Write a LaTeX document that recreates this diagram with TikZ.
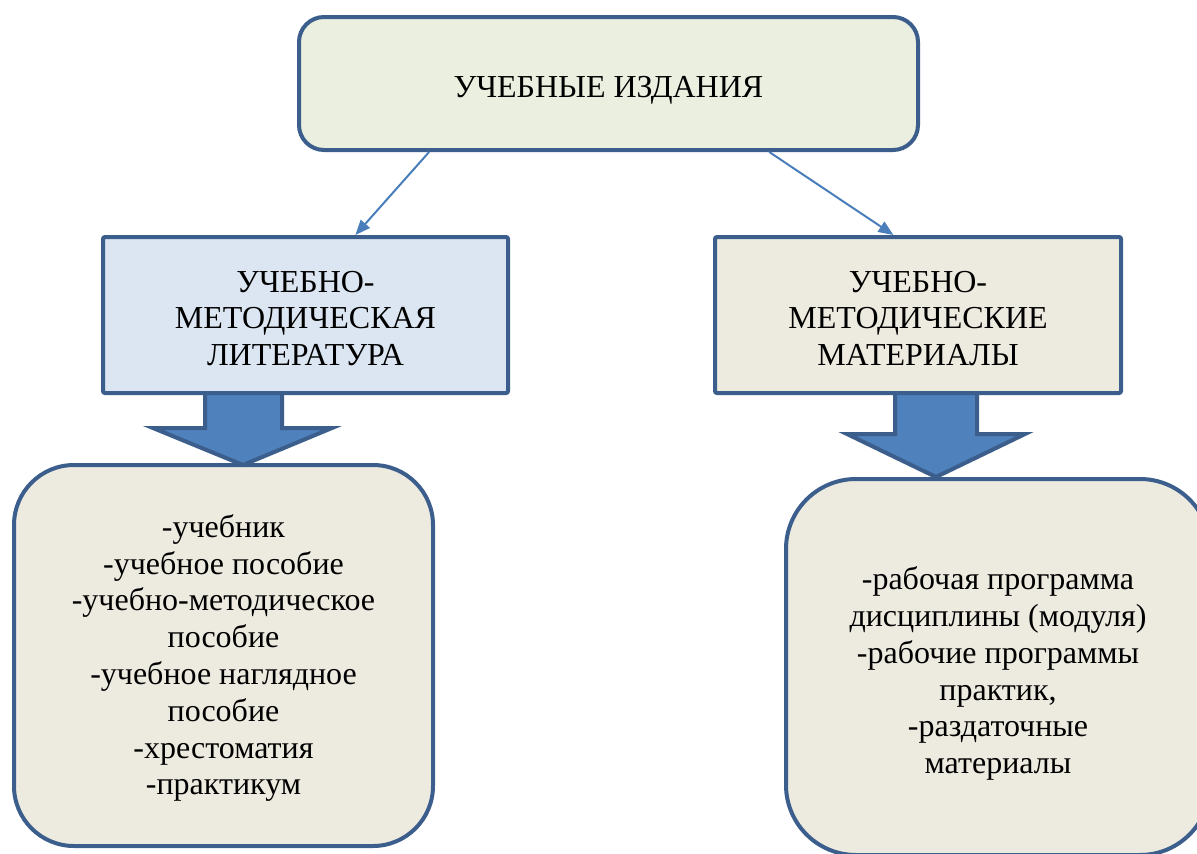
\documentclass[tikz,border=0pt]{standalone}
\usepackage{fontspec}
\setmainfont{Liberation Serif}
\usetikzlibrary{arrows.meta,calc}
\definecolor{bord}{HTML}{3B5E8C}
\definecolor{arrl}{HTML}{4A7EBB}
\definecolor{blk}{HTML}{4F81BD}
\definecolor{topf}{HTML}{EBEFDF}
\definecolor{bluef}{HTML}{DCE6F2}
\definecolor{beigef}{HTML}{EDEBE0}
\tikzset{
  box/.style={draw=bord, line width=4pt, align=center, inner sep=0pt,
    font=\fontsize{32}{36.8}\selectfont},
  conn/.style={draw=arrl, line width=2pt, -{Triangle[length=15pt,width=12pt]}},
  blockarrow/.style={draw=bord, fill=blk, line width=4pt, line join=miter}
}
\begin{document}
\begin{tikzpicture}[x=1pt,y=-1pt]
\useasboundingbox (0,0) rectangle (1197,854);
\clip (0,0) rectangle (1197,854);
\node[box, fill=topf, rounded corners=25pt, minimum width=619pt, minimum height=133pt] (top) at (608.5,83.5) {\rule{0pt}{35pt}УЧЕБНЫЕ ИЗДАНИЯ};
\node[box, fill=bluef, rounded corners=2pt, minimum width=405pt, minimum height=156pt] (ml) at (305.5,315) {\rule{0pt}{28pt}УЧЕБНО-\\МЕТОДИЧЕСКАЯ\\ЛИТЕРАТУРА};
\node[box, fill=beigef, rounded corners=2pt, minimum width=406pt, minimum height=156pt] (mr) at (918,315) {\rule{0pt}{28pt}УЧЕБНО-\\МЕТОДИЧЕСКИЕ\\МАТЕРИАЛЫ};
\node[box, fill=beigef, rounded corners=60pt, minimum width=419pt, minimum height=381pt] (bl) at (223.5,655.5) {\rule{0pt}{28pt}-учебник\\-учебное пособие\\-учебно-методическое\\пособие\\-учебное наглядное\\пособие\\-хрестоматия\\-практикум};
\node[box, fill=beigef, rounded corners=70pt, minimum width=424pt, minimum height=376pt] (br) at (998,667) {\rule{0pt}{36pt}-рабочая программа\\дисциплины (модуля)\\-рабочие программы\\практик,\\-раздаточные\\материалы};
\draw[conn] ($(top.south west)!0.212!(top.south east)$) -- ($(ml.north west)!0.622!(ml.north east)$);
\draw[conn] ($(top.south west)!0.758!(top.south east)$) -- ($(mr.north west)!0.44!(mr.north east)$);
\draw[blockarrow] (205,393) -- (282,393) -- (282,428) -- (332,428) -- (243,465) -- (153,428) -- (205,428) -- cycle;
\draw[blockarrow] (895,393) -- (977,393) -- (977,434) -- (1025,434) -- (936,477) -- (847,434) -- (895,434) -- cycle;
\end{tikzpicture}
\end{document}
